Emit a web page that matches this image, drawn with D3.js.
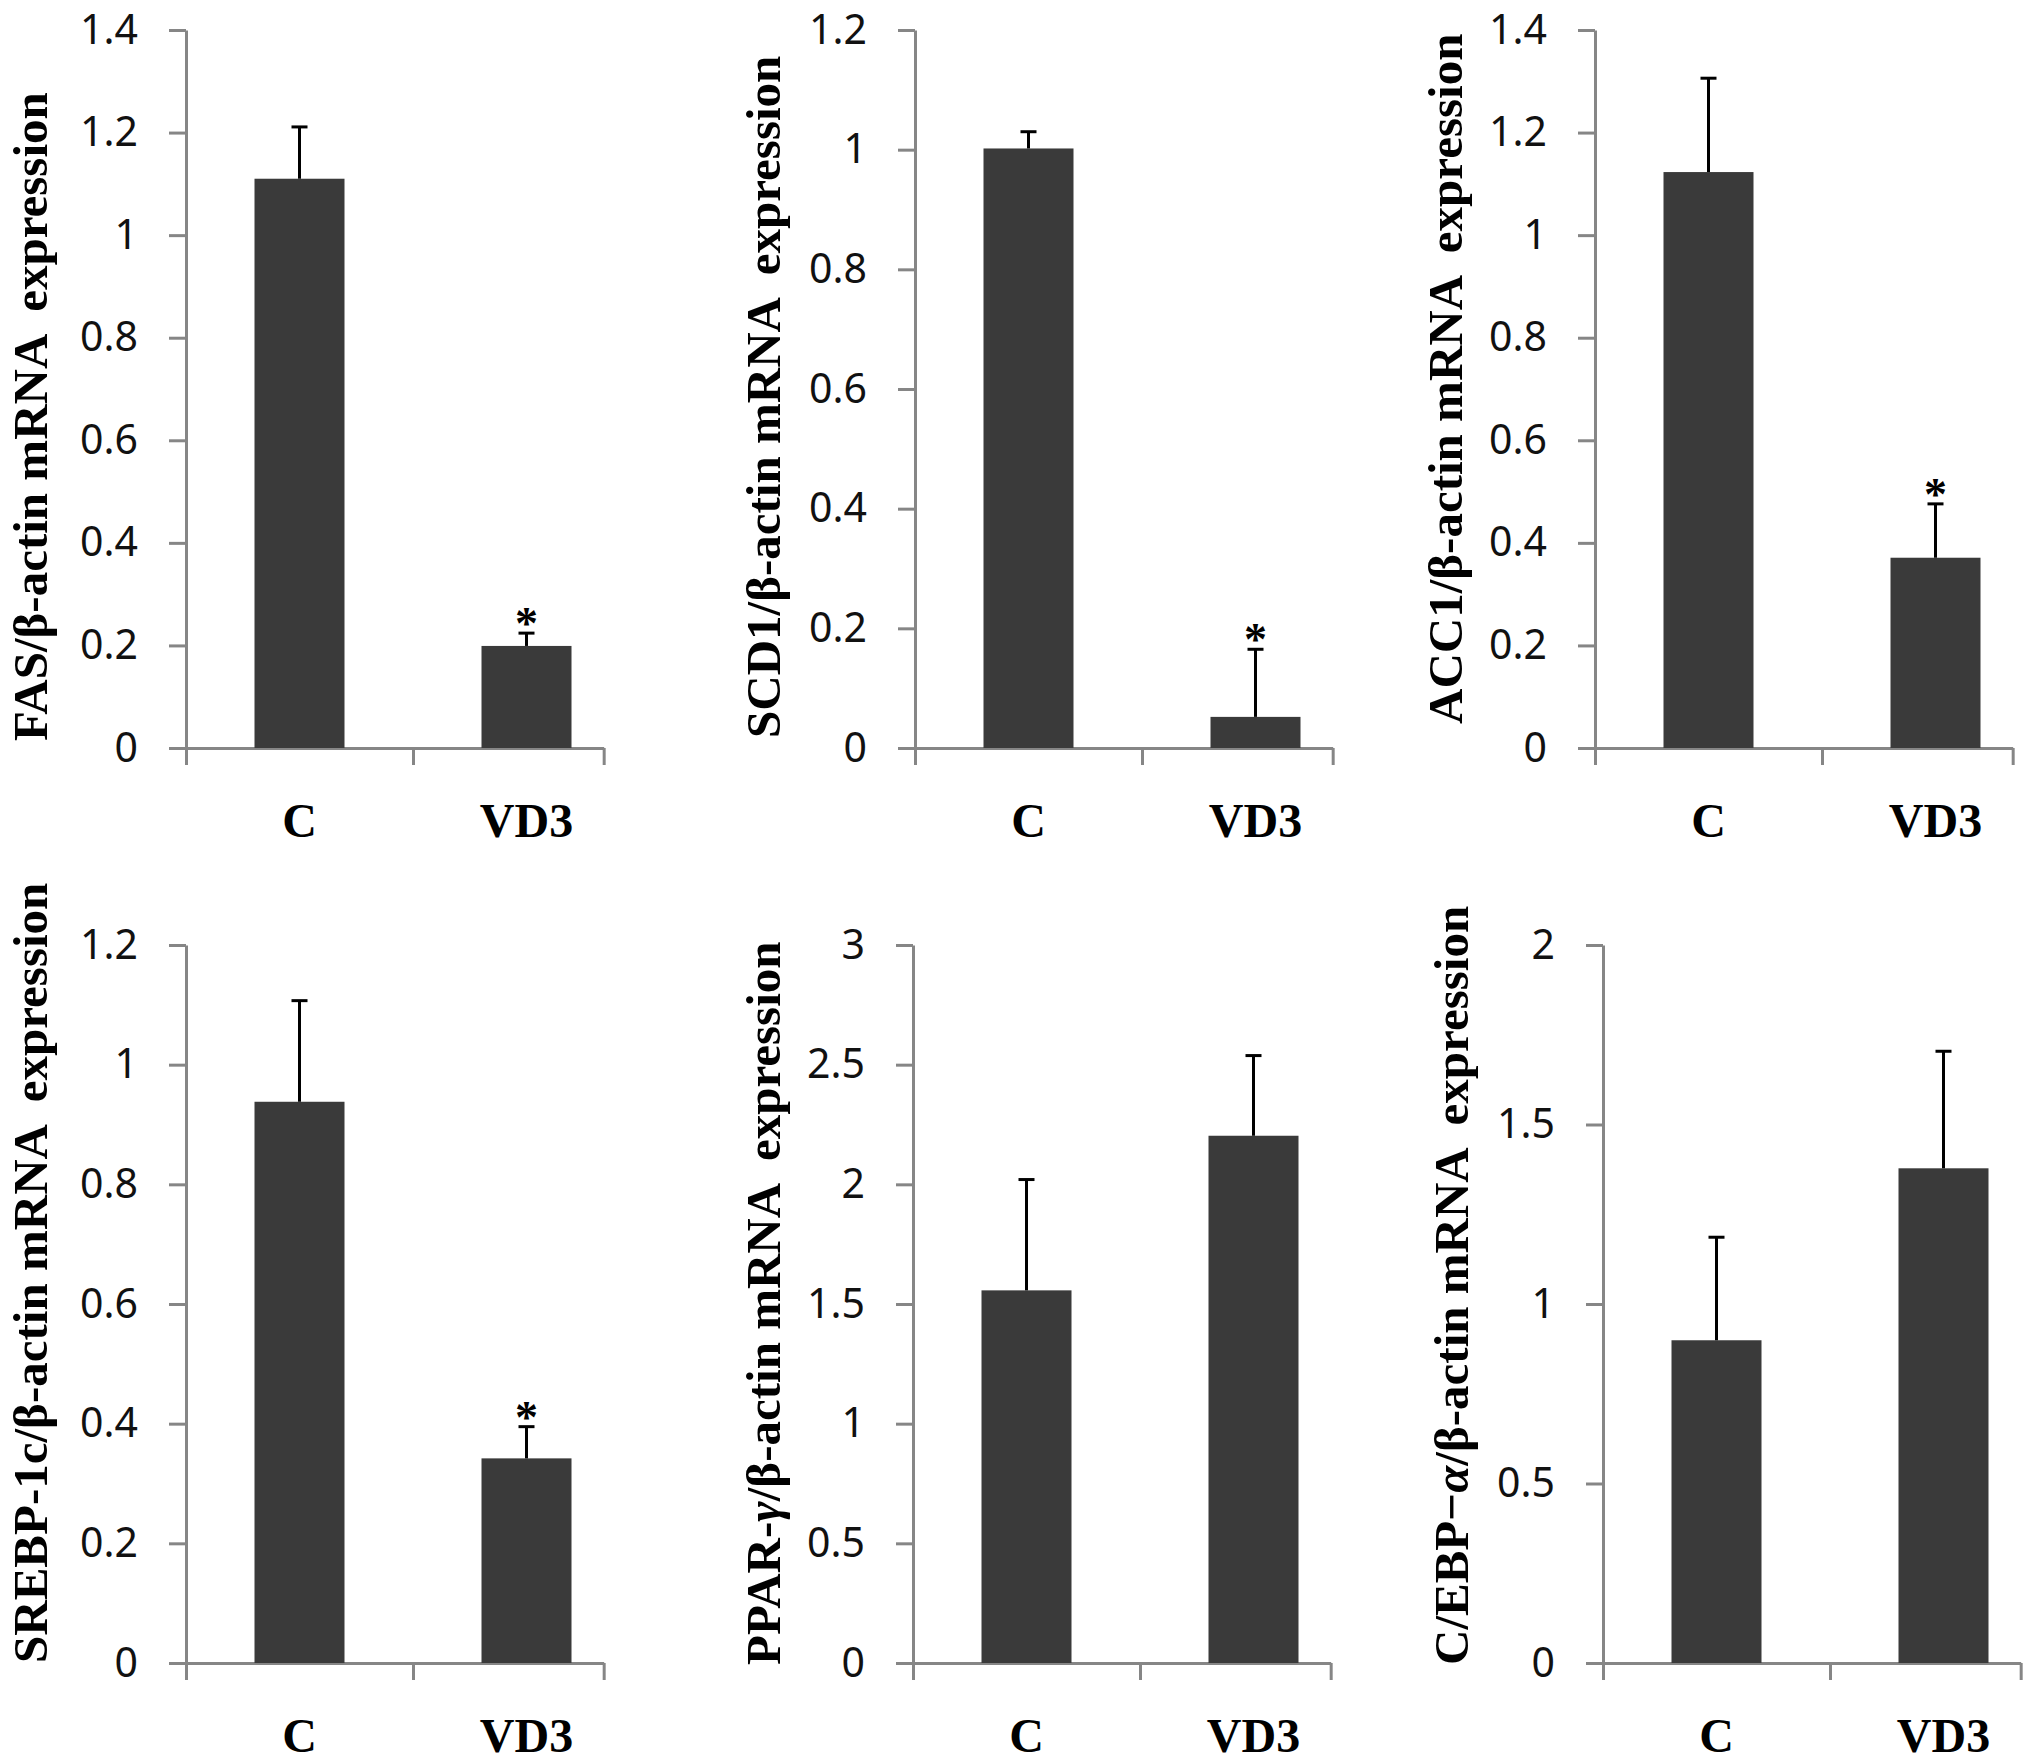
<!DOCTYPE html>
<html>
<head>
<meta charset="utf-8">
<script src="https://cdn.jsdelivr.net/npm/d3@7"></script>
<style>
  body { margin: 0; background: #fff; }
  .y-axis .tick text { font-family: "Noto Sans", sans-serif; font-size: 41px; fill: #111; }
  .domain, .tick line { stroke: #868686; stroke-width: 3; }
  .cat-label, .y-label, .star { font-family: "Liberation Serif", "Times New Roman", serif; font-weight: bold; fill: #000; }
</style>
</head>
<body>
<svg id="chart"></svg>
<script>
// data
const categories = ["C", "VD3"];
const yLabels = [
    "FAS/β-actin mRNA  expression",
    "SCD1/β-actin mRNA  expression",
    "ACC1/β-actin mRNA  expression",
    "SREBP-1c/β-actin mRNA  expression",
    "PPAR-γ/β-actin mRNA  expression",
    "C/EBP−α/β-actin mRNA  expression"
];
const meanC   = [1.110, 1.002, 1.123, 0.938, 1.557, 0.899];
const meanVD3 = [0.199, 0.052, 0.371, 0.342, 2.203, 1.378];
const errC    = [0.101, 0.028, 0.183, 0.169, 0.463, 0.287];
const errVD3  = [0.025, 0.113, 0.105, 0.053, 0.335, 0.326];
const sigVD3  = [true, true, true, true, false, false];
const yTicks = [
    [0, 0.2, 0.4, 0.6, 0.8, 1, 1.2, 1.4],
    [0, 0.2, 0.4, 0.6, 0.8, 1, 1.2],
    [0, 0.2, 0.4, 0.6, 0.8, 1, 1.2, 1.4],
    [0, 0.2, 0.4, 0.6, 0.8, 1, 1.2],
    [0, 0.5, 1, 1.5, 2, 2.5, 3],
    [0, 0.5, 1, 1.5, 2]
];

// layout of the six panels
const w = 2031;
const h = 1763;
const axisX      = [186, 915, 1595, 186, 913, 1603];
const plotTop    = [30, 30, 30, 945, 945, 945];
const plotBottom = [748, 748, 748, 1663, 1663, 1663];
const labelX     = [47, 780, 1462, 47, 780, 1468];
const labelStart = [741, 738, 724, 1663, 1665, 1665];
const step = 227;      // width of one category
const barW = 90;
const axisEnd = 1.84;  // x axis stops short of the second category's edge

const svg = d3.select("#chart").attr("width", w).attr("height", h);

yLabels.forEach((label, i) => {
    const x0 = axisX[i];
    const g = svg.append("g").attr("class", "panel");

    const yScale = d3.scaleLinear()
                     .domain([0, d3.max(yTicks[i])])
                     .range([plotBottom[i], plotTop[i]]);
    const xScale = d3.scaleBand()
                     .domain(categories)
                     .range([x0, x0 + step * categories.length]);
    const xEdge = d3.scaleLinear()
                    .domain([0, axisEnd])
                    .range([x0, x0 + axisEnd * step]);

    // axes
    g.append("g")
     .attr("class", "y-axis")
     .attr("transform", `translate(${x0}, 0)`)
     .call(d3.axisLeft(yScale).tickValues(yTicks[i]).tickFormat(d => `${d}`)
             .tickSizeInner(17).tickSizeOuter(0).tickPadding(31));

    g.append("g")
     .attr("class", "x-axis")
     .attr("transform", `translate(0, ${plotBottom[i]})`)
     .call(d3.axisBottom(xEdge).tickValues([0, 1, axisEnd]).tickFormat("")
             .tickSizeInner(17).tickSizeOuter(0));

    // bars
    const rows = categories.map((c, j) => ({
        cat: c,
        mean: j === 0 ? meanC[i] : meanVD3[i],
        err: j === 0 ? errC[i] : errVD3[i],
        sig: j === 1 && sigVD3[i]
    }));
    const cx = d => xScale(d.cat) + xScale.bandwidth() / 2;

    g.selectAll("rect.bar")
     .data(rows)
     .enter().append("rect")
     .attr("class", "bar")
     .attr("x", d => cx(d) - barW / 2)
     .attr("width", barW)
     .attr("y", d => yScale(d.mean))
     .attr("height", d => yScale(0) - yScale(d.mean))
     .attr("fill", "#3a3a3a");

    // upper error bars
    g.selectAll("line.err")
     .data(rows)
     .enter().append("line")
     .attr("class", "err")
     .attr("x1", cx).attr("x2", cx)
     .attr("y1", d => yScale(d.mean))
     .attr("y2", d => yScale(d.mean + d.err))
     .attr("stroke", "#000").attr("stroke-width", 3);
    g.selectAll("line.cap")
     .data(rows)
     .enter().append("line")
     .attr("class", "cap")
     .attr("x1", d => cx(d) - 8).attr("x2", d => cx(d) + 8)
     .attr("y1", d => yScale(d.mean + d.err))
     .attr("y2", d => yScale(d.mean + d.err))
     .attr("stroke", "#000").attr("stroke-width", 3);

    g.selectAll("text.star")
     .data(rows.filter(d => d.sig))
     .enter().append("text")
     .attr("class", "star")
     .attr("x", cx)
     .attr("y", d => yScale(d.mean + d.err) + 6)
     .attr("text-anchor", "middle")
     .style("font-size", "46px")
     .text("*");

    // category labels
    g.selectAll("text.cat-label")
     .data(categories)
     .enter().append("text")
     .attr("class", "cat-label")
     .attr("x", c => xScale(c) + xScale.bandwidth() / 2)
     .attr("y", plotBottom[i] + 89)
     .attr("text-anchor", "middle")
     .style("font-size", "48px")
     .text(c => c);

    // y axis title, greek gene letters in italic
    const title = g.append("text")
                   .attr("class", "y-label")
                   .attr("text-anchor", "start")
                   .style("font-size", "49px")
                   .style("white-space", "pre")
                   .attr("transform", `translate(${labelX[i]}, ${labelStart[i]}) rotate(-90)`);
    const parts = label.split(/([γα])/);
    parts.forEach(p => {
        if (!p) return;
        const t = title.append("tspan").text(p);
        if (p === "γ" || p === "α") t.style("font-style", "italic");
    });
});
</script>
</body>
</html>
